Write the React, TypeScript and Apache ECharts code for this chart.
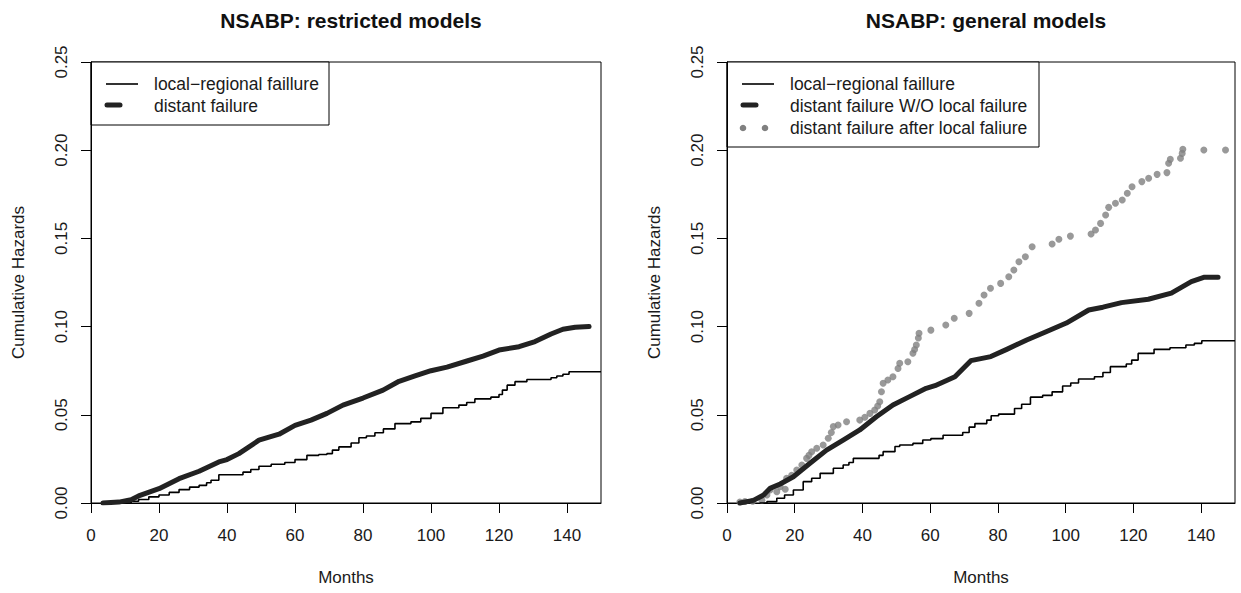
import React, { useEffect, useRef } from "react";
import * as echarts from "echarts";

const xTicks = [0, 20, 40, 60, 80, 100, 120, 140];
const yTicks = [0, 0.05, 0.1, 0.15, 0.2, 0.25];

const titles = ["NSABP: restricted models", "NSABP: general models"];
const leftLegend = ["local\u2212regional faillure", "distant failure"];
const rightLegend = [
  "local\u2212regional faillure",
  "distant failure W/O local failure",
  "distant failure after local faliure",
];

// Left panel: restricted models
const leftLocal: [number, number][] = [
  [10, 0], [11.8, 0.001], [14, 0.002], [17, 0.0035], [20, 0.0045], [23, 0.006], [25.9, 0.0076],
  [29, 0.009], [31.8, 0.01], [34, 0.0115], [35.3, 0.0129], [37.6, 0.016], [44.7, 0.0175],
  [47, 0.019], [49.4, 0.0208], [53, 0.022], [57, 0.023], [60, 0.0246], [63.5, 0.027],
  [67, 0.0275], [69.4, 0.028], [71, 0.03], [72.9, 0.0318], [76.5, 0.034], [78.8, 0.037],
  [81, 0.038], [83.5, 0.0398], [86, 0.042], [89.4, 0.045], [94.1, 0.046], [97, 0.048],
  [100, 0.0508], [103.5, 0.054], [108.2, 0.0555], [110.5, 0.057], [112.9, 0.059],
  [117.6, 0.06], [120, 0.0615], [121, 0.064], [122.4, 0.0668], [124.7, 0.0688],
  [128.2, 0.07], [135.3, 0.071], [137, 0.072], [138.8, 0.073], [140.6, 0.0744], [150, 0.0744],
];
const leftDistant: [number, number][] = [
  [3.5, 0], [8.2, 0.0005], [11.8, 0.0019], [14, 0.004], [20, 0.0081], [25.9, 0.0138],
  [31.8, 0.018], [37.6, 0.0233], [40, 0.0246], [43.5, 0.028], [49.4, 0.0356], [55.3, 0.039],
  [60, 0.044], [64.7, 0.047], [69.4, 0.0508], [74.1, 0.0555], [80, 0.0595], [85.9, 0.064],
  [90.6, 0.069], [95.3, 0.072], [100, 0.075], [104.7, 0.077], [110.6, 0.0805], [115.3, 0.0833],
  [120, 0.0867], [125.9, 0.0886], [130.6, 0.0915], [135.3, 0.0958], [138.8, 0.0985],
  [142.4, 0.0996], [146.5, 0.1],
];

// Right panel: general models
const rightLocal: [number, number][] = [
  [9.6, 0], [11.8, 0.0008], [14.7, 0.0027], [17, 0.0045], [19.6, 0.0074], [22.5, 0.0121],
  [25, 0.014], [27.5, 0.0168], [31.4, 0.0197], [34.3, 0.0215], [36, 0.023], [37.3, 0.0253],
  [44.9, 0.027], [46.1, 0.0291], [49.6, 0.032], [51, 0.0329], [54.9, 0.0338], [57.8, 0.0357],
  [60.2, 0.0365], [63.8, 0.0384], [69.6, 0.04], [71.5, 0.043], [73.2, 0.045], [76.7, 0.047],
  [78, 0.0495], [80.2, 0.0504], [84.9, 0.0536], [87, 0.056], [89.6, 0.06], [93.2, 0.061],
  [96, 0.063], [99.1, 0.0663], [101.5, 0.068], [103.8, 0.0703], [108.5, 0.0716], [111, 0.074],
  [113.2, 0.0773], [117.9, 0.0788], [119.5, 0.081], [121.4, 0.0848], [126.1, 0.0871],
  [130.8, 0.088], [135.5, 0.0896], [138, 0.0905], [140.2, 0.092], [150, 0.092],
];
const rightDistant: [number, number][] = [
  [3.8, 0], [7.8, 0.0015], [10.8, 0.0045], [12.7, 0.0083], [15.7, 0.0108], [19.6, 0.0149],
  [24.5, 0.0225], [29.4, 0.03], [34.3, 0.0357], [39.2, 0.0414], [44.1, 0.0489], [49, 0.0556],
  [53.9, 0.0603], [58.8, 0.065], [61.4, 0.0665], [67.3, 0.0716], [72, 0.0807], [77.9, 0.083],
  [82.6, 0.0871], [88.5, 0.0924], [94.4, 0.0972], [100.2, 0.102], [106.8, 0.1094],
  [111, 0.111], [116.5, 0.1136], [124.4, 0.1155], [131.2, 0.119], [137.1, 0.1255],
  [141, 0.128], [145, 0.128],
];
const rightAfterLocal: [number, number][] = [
  [3.8, 0.0005], [5.3, 0.0008], [7.6, 0.001], [10.3, 0.0015], [11.8, 0.0045], [12.7, 0.0074],
  [14.7, 0.0064], [15.7, 0.0093], [17.2, 0.0078], [17.6, 0.014], [19.1, 0.0157], [20.6, 0.0187],
  [22.1, 0.0215], [23.5, 0.0253], [24.2, 0.027], [25, 0.0291], [26.5, 0.031], [28.4, 0.0329],
  [29.9, 0.0367], [30.8, 0.04], [31.4, 0.0433], [32.8, 0.0442], [35.3, 0.0461], [39.2, 0.047],
  [40.7, 0.0486], [42.2, 0.0508], [43.6, 0.0527], [44.5, 0.055], [45.1, 0.0574], [45.6, 0.0631],
  [46.1, 0.0679], [47.5, 0.0697], [49, 0.0716], [50.5, 0.0763], [51, 0.0792], [53.4, 0.0801],
  [54.9, 0.0849], [55.4, 0.087], [55.9, 0.0896], [56.5, 0.0935], [56.7, 0.0962], [60.2, 0.098],
  [64.6, 0.1009], [67.1, 0.1047], [71.5, 0.1075], [74.4, 0.1132], [75.9, 0.1179], [77.8, 0.1217],
  [80.8, 0.1245], [83.2, 0.1283], [84.7, 0.1321], [86.2, 0.1368], [88.1, 0.1396], [90.1, 0.1453],
  [96, 0.1468], [98, 0.1495], [101.4, 0.1513], [107.5, 0.1525], [108.8, 0.1548], [110.3, 0.1585],
  [111.8, 0.1633], [112.7, 0.1676], [114.7, 0.1699], [116.7, 0.1718], [118.2, 0.1756],
  [119.6, 0.1793], [122.5, 0.1822], [124.5, 0.1841], [127, 0.1863], [129.9, 0.1873],
  [130.4, 0.1926], [130.9, 0.1948], [133.9, 0.1954], [134.4, 0.1982], [134.6, 0.2005],
  [140.8, 0.2001], [147.2, 0.2001],
];

const FONT = "'Liberation Sans', Arial, Helvetica, sans-serif";
const TXT = "#1a1a1a";

function makeX(gridIndex: number) {
  return {
    type: "value",
    gridIndex,
    min: 0,
    max: 150,
    name: "Months",
    nameLocation: "middle",
    nameGap: 66,
    nameTextStyle: { fontFamily: FONT, fontSize: 17, color: TXT },
    axisLine: { show: true, onZero: false, lineStyle: { color: "#000", width: 1 } },
    axisTick: { show: true, length: 10, lineStyle: { color: "#000", width: 1 }, customValues: xTicks },
    axisLabel: { fontFamily: FONT, fontSize: 17, color: TXT, margin: 24, customValues: xTicks },
    splitLine: { show: false },
  };
}

function makeY(gridIndex: number) {
  return {
    type: "value",
    gridIndex,
    min: 0,
    max: 0.25,
    name: "Cumulative Hazards",
    nameLocation: "middle",
    nameRotate: 90,
    nameGap: 64,
    nameTextStyle: { fontFamily: FONT, fontSize: 17, color: TXT },
    axisLine: { show: true, lineStyle: { color: "#000", width: 1 } },
    axisTick: { show: true, length: 10, lineStyle: { color: "#000", width: 1 }, customValues: yTicks },
    axisLabel: {
      fontFamily: FONT,
      fontSize: 17,
      color: TXT,
      rotate: 90,
      margin: 21,
      customValues: yTicks,
      formatter: (v: number) => v.toFixed(2),
    },
    splitLine: { show: false },
  };
}

function legendBox(x: number, w: number, labels: string[], kinds: string[]) {
  const children: any[] = [
    { type: "rect", shape: { x, y: 62, width: w, height: 22 * labels.length + 19 }, style: { fill: "#fff", stroke: "#000", lineWidth: 1 } },
  ];
  labels.forEach((lab, i) => {
    const y = 84 + i * 22;
    const k = kinds[i];
    if (k === "thin") {
      children.push({ type: "line", shape: { x1: x + 15, y1: y, x2: x + 47, y2: y }, style: { stroke: "#000", lineWidth: 1.6 } });
    } else if (k === "thick") {
      children.push({ type: "line", shape: { x1: x + 16, y1: y - 1, x2: x + 29, y2: y - 1 }, style: { stroke: "#222", lineWidth: 5, lineCap: "round" } });
    } else {
      children.push({ type: "circle", shape: { cx: x + 16, cy: y, r: 3.3 }, style: { fill: "#808080" } });
      children.push({ type: "circle", shape: { cx: x + 38, cy: y, r: 3.3 }, style: { fill: "#808080" } });
    }
    children.push({
      type: "text",
      x: x + 63,
      y,
      style: { text: lab, fontFamily: FONT, fontSize: 17.5, fill: TXT, verticalAlign: "middle", align: "left" },
    });
  });
  return { type: "group", z: 100, children };
}

export default function App() {
  const ref = useRef<HTMLDivElement>(null);
  useEffect(() => {
    if (!ref.current) return;
    const chart = echarts.init(ref.current, null, { renderer: "svg" });
    const titleStyle = { fontFamily: FONT, fontSize: 21, fontWeight: "bold", color: "#111" };
    const option: any = {
      animation: false,
      backgroundColor: "#fff",
      title: [
        { text: titles[0], left: 346, top: 5, textAlign: "center", textStyle: titleStyle },
        { text: titles[1], left: 981, top: 5, textAlign: "center", textStyle: titleStyle },
      ],
      grid: [
        { left: 91, top: 62, width: 510, height: 441, show: true, borderColor: "#000", borderWidth: 1, backgroundColor: "transparent" },
        { left: 727, top: 62, width: 508, height: 441, show: true, borderColor: "#000", borderWidth: 1, backgroundColor: "transparent" },
      ],
      xAxis: [makeX(0), makeX(1)],
      yAxis: [makeY(0), makeY(1)],
      series: [
        {
          name: leftLegend[0], type: "line", xAxisIndex: 0, yAxisIndex: 0, data: leftLocal, step: "end",
          showSymbol: false, lineStyle: { color: "#000", width: 1.6 },
        },
        {
          name: leftLegend[1], type: "line", xAxisIndex: 0, yAxisIndex: 0, data: leftDistant,
          showSymbol: false, lineStyle: { color: "#222", width: 5, cap: "round", join: "round" },
        },
        {
          name: rightLegend[0], type: "line", xAxisIndex: 1, yAxisIndex: 1, data: rightLocal, step: "end",
          showSymbol: false, lineStyle: { color: "#000", width: 1.6 },
        },
        {
          name: rightLegend[1], type: "line", xAxisIndex: 1, yAxisIndex: 1, data: rightDistant,
          showSymbol: false, lineStyle: { color: "#222", width: 5, cap: "round", join: "round" },
        },
        {
          name: rightLegend[2], type: "scatter", xAxisIndex: 1, yAxisIndex: 1, data: rightAfterLocal,
          symbol: "circle", symbolSize: 7, itemStyle: { color: "#808080" },
        },
      ],
      graphic: [
        legendBox(91, 238, leftLegend, ["thin", "thick"]),
        legendBox(727, 312, rightLegend, ["thin", "thick", "dots"]),
      ],
    };
    chart.setOption(option);
    return () => chart.dispose();
  }, []);
  return <div ref={ref} style={{ position: "fixed", left: 0, top: 0, width: 1241, height: 593 }} />;
}
